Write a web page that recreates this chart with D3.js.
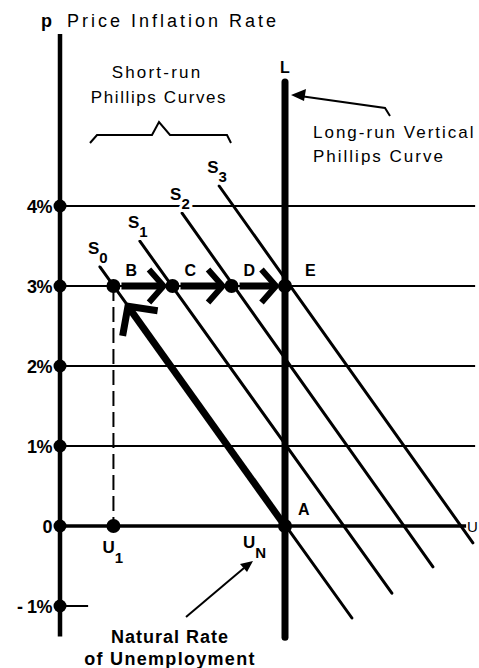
<!DOCTYPE html>
<html>
<head>
<meta charset="utf-8">
<script src="https://cdn.jsdelivr.net/npm/d3@7"></script>
<style>
  html, body { margin: 0; padding: 0; background: #fff; }
  svg { display: block; font-family: "Liberation Sans", Arial, Helvetica, sans-serif; }
</style>
</head>
<body>
<div id="chart"></div>
<script>
// inflation ticks on the vertical axis (percent)
const inflationTicks = [4, 3, 2, 1, 0, -1]
const tickLabels = ["4%", "3%", "2%", "1%", "0", "- 1%"]
const gridLevels = [4, 3, 2, 1]

// unemployment (schematic units)
const naturalRate = 4
const u1 = 0.95

// short-run Phillips curves: start and end points [u, p]
const curveNames = ["0", "1", "2", "3"]
const curveStart = [[0.71, 3.24], [1.42, 3.56], [2.17, 3.91], [2.83, 4.25]]
const curveEnd = [[5.19, -1.15], [5.9, -0.84], [6.63, -0.51], [7.34, -0.21]]

// adjustment path at 3% inflation
const pathNames = ["B", "C", "D", "E"]
const pathU = [0.95, 2.0, 3.05, 4.0]
const pathInflation = 3

const width = 479, height = 668

const x = d3.scaleLinear().domain([0, 4]).range([60, 285])
const y = d3.scaleLinear().domain([-1, 4]).range([606, 206])

const svg = d3.select("#chart").append("svg")
  .attr("width", width).attr("height", height)
  .attr("viewBox", [0, 0, width, height])

const bold = sel => sel.attr("font-weight", "bold")

// horizontal grid lines
svg.append("g").selectAll("line").data(gridLevels).join("line")
  .attr("x1", x(0)).attr("x2", x(7.38))
  .attr("y1", d => y(d)).attr("y2", d => y(d))
  .attr("stroke", "#000").attr("stroke-width", 2)

// zero axis
svg.append("line")
  .attr("x1", x(0)).attr("x2", x(7.22)).attr("y1", y(0)).attr("y2", y(0))
  .attr("stroke", "#000").attr("stroke-width", 3.5)
svg.append("text").attr("x", 467).attr("y", y(0) + 6)
  .attr("font-size", 15).text("U")

// -1% short tick
svg.append("line")
  .attr("x1", x(0)).attr("x2", x(0.5)).attr("y1", y(-1)).attr("y2", y(-1))
  .attr("stroke", "#000").attr("stroke-width", 2)

// vertical axis
svg.append("line")
  .attr("x1", x(0)).attr("x2", x(0)).attr("y1", y(6.15)).attr("y2", y(-1.38))
  .attr("stroke", "#000").attr("stroke-width", 4.5)

svg.append("g").selectAll("circle").data(inflationTicks).join("circle")
  .attr("cx", x(0)).attr("cy", d => y(d)).attr("r", 6.5)
svg.append("g").selectAll("text").data(inflationTicks).join("text")
  .attr("x", x(0) - 8).attr("y", d => y(d) + 7)
  .attr("text-anchor", "end").attr("font-size", 18).attr("letter-spacing", -0.5)
  .call(bold)
  .text((d, i) => tickLabels[i])

// dashed line B -> U1
svg.append("line")
  .attr("x1", x(u1)).attr("x2", x(u1)).attr("y1", y(pathInflation)).attr("y2", y(0))
  .attr("stroke", "#000").attr("stroke-width", 2).attr("stroke-dasharray", "15,6")

// short-run curves
svg.append("g").selectAll("line").data(curveNames).join("line")
  .attr("x1", (d, i) => x(curveStart[i][0])).attr("y1", (d, i) => y(curveStart[i][1]))
  .attr("x2", (d, i) => x(curveEnd[i][0])).attr("y2", (d, i) => y(curveEnd[i][1]))
  .attr("stroke", "#000").attr("stroke-width", 3).attr("stroke-linecap", "round")

const sLabels = svg.append("g").selectAll("text").data(curveNames).join("text")
  .attr("x", (d, i) => x(curveStart[i][0]) - 12)
  .attr("y", (d, i) => y(curveStart[i][1]) - 13)
  .attr("font-size", 17).call(bold)
  .attr("stroke", "#fff").attr("stroke-width", 6).attr("paint-order", "stroke")
sLabels.append("tspan").text("S")
sLabels.append("tspan").attr("dy", 9).attr("font-size", 15).text(d => d)

// long-run vertical Phillips curve
svg.append("line")
  .attr("x1", x(naturalRate)).attr("x2", x(naturalRate))
  .attr("y1", y(5.55)).attr("y2", y(-1.39))
  .attr("stroke", "#000").attr("stroke-width", 7).attr("stroke-linecap", "round")
svg.append("text").attr("x", x(naturalRate) - 5).attr("y", 73)
  .attr("font-size", 16).call(bold).text("L")

// chevron helper: apex point, direction angle of travel
function chevron(px, py, angle, len, spread, w) {
  const back = angle + Math.PI
  const a1 = back - spread, a2 = back + spread
  return svg.append("path")
    .attr("d", `M${px + len * Math.cos(a1)},${py + len * Math.sin(a1)}L${px},${py}L${px + len * Math.cos(a2)},${py + len * Math.sin(a2)}`)
    .attr("fill", "none").attr("stroke", "#000").attr("stroke-width", w)
    .attr("stroke-linejoin", "miter").attr("stroke-miterlimit", 10)
}

// horizontal arrows B->C->D->E
for (let i = 0; i < pathU.length - 1; i++) {
  const x0 = x(pathU[i]) + 8, x1 = x(pathU[i + 1]) - 9
  svg.append("line")
    .attr("x1", x0).attr("x2", x1 - 4).attr("y1", y(pathInflation)).attr("y2", y(pathInflation))
    .attr("stroke", "#000").attr("stroke-width", 7)
  chevron(x1, y(pathInflation), 0, 22, 0.85, 6)
}

// diagonal arrow A -> B
{
  const ax = x(naturalRate), ay = y(0)
  const bx = x(pathU[0]), by = y(pathInflation)
  const ang = Math.atan2(by - ay, bx - ax)
  const dist = Math.hypot(bx - ax, by - ay)
  const tipX = ax + Math.cos(ang) * (dist - 25), tipY = ay + Math.sin(ang) * (dist - 25)
  svg.append("line")
    .attr("x1", ax).attr("y1", ay).attr("x2", tipX - Math.cos(ang) * 4).attr("y2", tipY - Math.sin(ang) * 4)
    .attr("stroke", "#000").attr("stroke-width", 7)
  chevron(tipX, tipY, ang, 30, 0.8, 7)
}

// points on path
svg.append("g").selectAll("circle").data(pathNames).join("circle")
  .attr("cx", (d, i) => x(pathU[i])).attr("cy", y(pathInflation)).attr("r", 7)
svg.append("g").selectAll("text").data(pathNames).join("text")
  .attr("x", (d, i) => x(pathU[i]) + (d === "E" ? 20 : 12)).attr("y", y(pathInflation) - 10)
  .attr("font-size", 16).call(bold).text(d => d)

// A and U1 dots
svg.append("circle").attr("cx", x(naturalRate)).attr("cy", y(0)).attr("r", 7)
svg.append("circle").attr("cx", x(u1)).attr("cy", y(0)).attr("r", 7)
svg.append("text").attr("x", x(naturalRate) + 13).attr("y", y(0) - 11)
  .attr("font-size", 16).call(bold).text("A")

const uOne = svg.append("text").attr("x", x(u1) - 11).attr("y", y(0) + 27)
  .attr("font-size", 17).call(bold)
uOne.append("tspan").text("U")
uOne.append("tspan").attr("dy", 10).attr("font-size", 15).text("1")
const uN = svg.append("text").attr("x", x(naturalRate) - 42).attr("y", y(0) + 22)
  .attr("font-size", 17).call(bold)
uN.append("tspan").text("U")
uN.append("tspan").attr("dy", 10).attr("font-size", 15).text("N")

// titles and annotations
const title = svg.append("text").attr("x", 41).attr("y", 27).attr("font-size", 18)
title.append("tspan").call(bold).text("p")
title.append("tspan").attr("x", 67).attr("letter-spacing", 3).text("Price Inflation Rate")

svg.append("text").attr("x", 157).attr("y", 78).attr("text-anchor", "middle")
  .attr("font-size", 17).attr("letter-spacing", 2.2).text("Short-run")
svg.append("text").attr("x", 159).attr("y", 103).attr("text-anchor", "middle")
  .attr("font-size", 17).attr("letter-spacing", 1.6).text("Phillips Curves")

// bracket
svg.append("path")
  .attr("d", "M90,143L97,135L152,135L159,122L170,135L227,135L231,143")
  .attr("fill", "none").attr("stroke", "#000").attr("stroke-width", 2)

svg.append("text").attr("x", 313).attr("y", 138).attr("font-size", 17).attr("letter-spacing", 2)
  .text("Long-run Vertical")
svg.append("text").attr("x", 313).attr("y", 162).attr("font-size", 17).attr("letter-spacing", 2)
  .text("Phillips Curve")
svg.append("path").attr("d", "M390,116L385,108L300,96")
  .attr("fill", "none").attr("stroke", "#000").attr("stroke-width", 2)
svg.append("path").attr("d", "M291,95L306,89L304,101Z")

svg.append("text").attr("x", 170).attr("y", 643).attr("text-anchor", "middle")
  .attr("font-size", 18).attr("letter-spacing", 1).call(bold).text("Natural Rate")
svg.append("text").attr("x", 170).attr("y", 665).attr("text-anchor", "middle")
  .attr("font-size", 18).attr("letter-spacing", 1.3).call(bold).text("of Unemployment")
svg.append("path").attr("d", "M186,617L244,568")
  .attr("fill", "none").attr("stroke", "#000").attr("stroke-width", 2)
svg.append("path").attr("d", "M253,561L240,564L247,572Z")
</script>
</body>
</html>
